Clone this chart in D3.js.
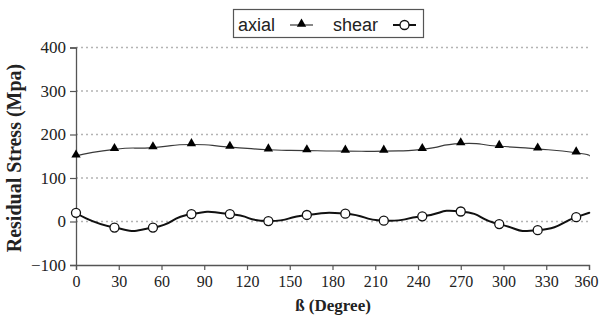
<!DOCTYPE html>
<html>
<head>
<meta charset="utf-8">
<script src="https://cdn.jsdelivr.net/npm/d3@7"></script>
<style>
  html, body { margin: 0; padding: 0; background: #fff; }
  svg { display: block; }
</style>
</head>
<body>
<svg id="chart" width="599" height="325"></svg>
<script>
// ---- data ----
const angles = [0, 27, 54, 81, 108, 135, 162, 189, 216, 243, 270, 297, 324, 351, 360];
const axialValues = [151, 166, 170, 177, 171, 165, 163, 162, 162, 166, 179, 173, 167, 158, 151];
const shearValues = [20, -14, -14, 17, 17, 1, 15, 18, 2, 12, 23, -6, -20, 10, 20];
const markerCount = 14; // the 360° point closes the curve without a marker
const xTicks = [0, 30, 60, 90, 120, 150, 180, 210, 240, 270, 300, 330, 360];
const yTicks = [-100, 0, 100, 200, 300, 400];
const seriesNames = ["axial", "shear"];

// ---- layout ----
const svg = d3.select("#chart");
const x = d3.scaleLinear().domain([0, 360]).range([76, 589]);
const y = d3.scaleLinear().domain([-100, 400]).range([265, 47.5]);

const serif = "'Liberation Serif', 'Times New Roman', serif";
const sans = "'Liberation Sans', Arial, sans-serif";

// gridlines
svg.append("g").selectAll("line")
  .data(yTicks.filter(d => d > -100))
  .join("line")
  .attr("x1", x(0)).attr("x2", x(360))
  .attr("y1", d => y(d)).attr("y2", d => y(d))
  .attr("stroke", "#b4b4b4").attr("stroke-width", 1.3)
  .attr("stroke-dasharray", "2,3");

// y axis
const yAxis = svg.append("g")
  .attr("transform", `translate(${x(0)},0)`)
  .call(d3.axisLeft(y).tickValues(yTicks).tickSize(6).tickPadding(4).tickFormat(d3.format("d")));
yAxis.select(".domain").attr("stroke", "#555").attr("stroke-width", 1.3);
yAxis.selectAll(".tick line").attr("stroke", "#555").attr("stroke-width", 1.2);
yAxis.selectAll("text").attr("font-family", serif).attr("font-size", 17).attr("fill", "#222");

// x axis
const xAxis = svg.append("g")
  .attr("transform", `translate(0,${y(-100)})`)
  .call(d3.axisBottom(x).tickValues(xTicks).tickSize(5).tickPadding(6).tickFormat(d3.format("d")));
xAxis.select(".domain").attr("stroke", "#555").attr("stroke-width", 1.3);
xAxis.selectAll(".tick line").attr("stroke", "#555").attr("stroke-width", 1.2);
xAxis.selectAll("text").attr("font-family", serif).attr("font-size", 16).attr("fill", "#222");
// keep the last label inside the frame
xAxis.selectAll(".tick text").filter(d => d === 360).attr("dx", -3);

// titles
svg.append("text")
  .attr("x", 333).attr("y", 311)
  .attr("text-anchor", "middle")
  .attr("font-family", serif).attr("font-weight", "bold").attr("font-size", 17)
  .attr("fill", "#222")
  .text("ß (Degree)");

svg.append("text")
  .attr("transform", "translate(21,158) rotate(-90)")
  .attr("text-anchor", "middle")
  .attr("font-family", serif).attr("font-weight", "bold").attr("font-size", 20)
  .attr("fill", "#222")
  .text("Residual Stress (Mpa)");

// lines
const line = d3.line()
  .x(d => x(d[0])).y(d => y(d[1]))
  .curve(d3.curveCardinal.tension(-0.9));

const axialPts = angles.map((a, i) => [a, axialValues[i]]);
const shearPts = angles.map((a, i) => [a, shearValues[i]]);

svg.append("path").attr("d", line(axialPts))
  .attr("fill", "none").attr("stroke", "#3a3a3a").attr("stroke-width", 1.2);
svg.append("path").attr("d", line(shearPts))
  .attr("fill", "none").attr("stroke", "#111").attr("stroke-width", 2);

const tri = d3.symbol().type(d3.symbolTriangle).size(38);

svg.append("g").selectAll("path")
  .data(axialPts.slice(0, markerCount))
  .join("path")
  .attr("d", tri)
  .attr("transform", d => `translate(${x(d[0])},${y(d[1]) - 1})`)
  .attr("fill", "#000");

svg.append("g").selectAll("circle")
  .data(shearPts.slice(0, markerCount))
  .join("circle")
  .attr("cx", d => x(d[0])).attr("cy", d => y(d[1]))
  .attr("r", 4.5)
  .attr("fill", "#fff").attr("stroke", "#111").attr("stroke-width", 1.3);

// legend
const lg = svg.append("g");
lg.append("rect")
  .attr("x", 233.5).attr("y", 9.5).attr("width", 190).attr("height", 28)
  .attr("fill", "#fff").attr("stroke", "#555").attr("stroke-width", 1.2);
lg.append("text").attr("x", 238).attr("y", 31)
  .attr("font-family", sans).attr("font-size", 18).attr("fill", "#222").text(seriesNames[0]);
lg.append("line").attr("x1", 290).attr("x2", 313).attr("y1", 25).attr("y2", 25)
  .attr("stroke", "#3a3a3a").attr("stroke-width", 1.2);
lg.append("path").attr("d", tri).attr("transform", "translate(301.5,24)").attr("fill", "#000");
lg.append("text").attr("x", 333).attr("y", 31)
  .attr("font-family", sans).attr("font-size", 18).attr("fill", "#222").text(seriesNames[1]);
lg.append("line").attr("x1", 393).attr("x2", 416).attr("y1", 25).attr("y2", 25)
  .attr("stroke", "#111").attr("stroke-width", 2);
lg.append("circle").attr("cx", 404.5).attr("cy", 25).attr("r", 4.5)
  .attr("fill", "#fff").attr("stroke", "#111").attr("stroke-width", 1.3);
</script>
</body>
</html>
